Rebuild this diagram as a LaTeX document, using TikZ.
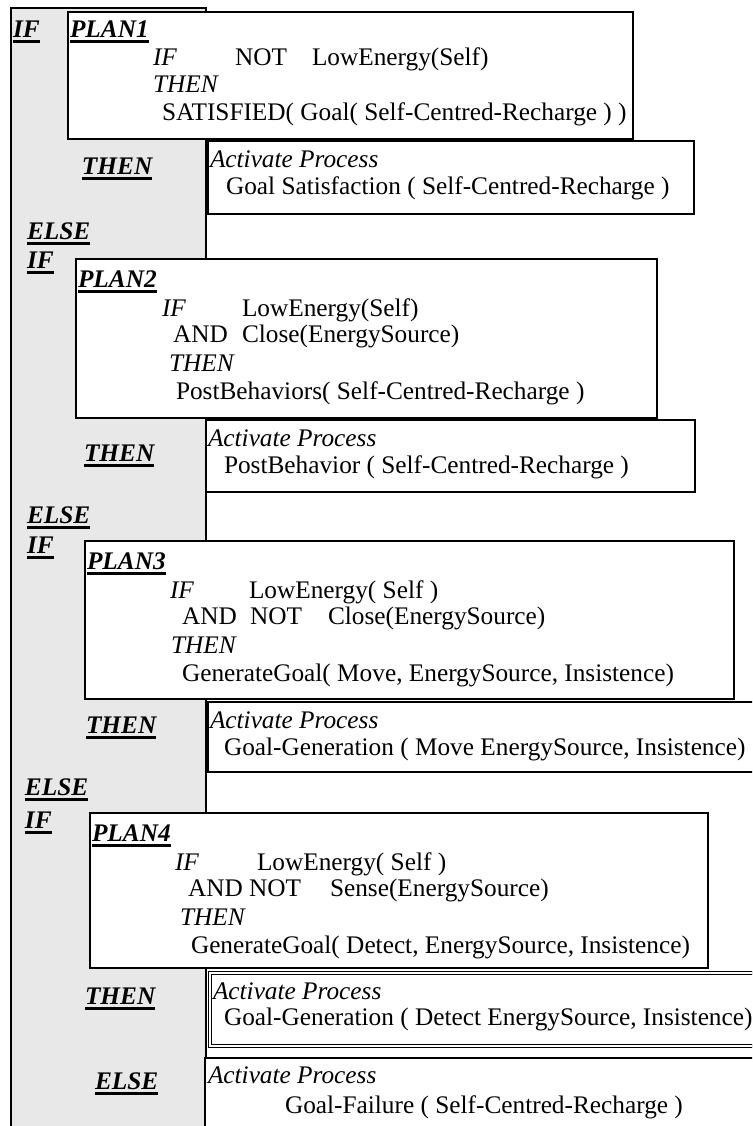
\documentclass[tikz,border=0pt]{standalone}
\usepackage{fontspec}
\setmainfont{Liberation Serif}
\definecolor{panelgrey}{RGB}{232,232,232}
\newsavebox{\kwbox}
\newcommand{\kw}[1]{\sbox\kwbox{\bfseries\itshape #1}\rlap{\vrule height -1.5pt depth 3.2pt width \wd\kwbox}\usebox\kwbox}
\tikzset{
	txt/.style={anchor=base west, inner sep=0pt, outer sep=0pt},
	planbox/.style={draw, fill=white, line width=0.9pt},
	procbox/.style={draw, fill=white, line width=0.8pt},
}

\begin{document}
\begin{tikzpicture}[x=0.5pt, y=-0.5pt, font=\fontsize{12.65pt}{15pt}\selectfont]
	\useasboundingbox (0,0) rectangle (752,1126);
	\clip (0,0) rectangle (752,1126);
	\fill[white] (0,0) rectangle (752,1126);
	\draw[fill=panelgrey, line width=0.9pt] (11,8) rectangle (206,1140);
	
	\node[txt] (if1) at (13,37) {\kw{IF}};
	\draw[planbox] (68,12) rectangle (633,139);
	\node[txt] (plan1) at (70,37) {\kw{PLAN1}};
	\node[txt] (p1if) at (153,65) {\textit{IF}};
	\node[txt] (p1not) at (235,65) {NOT};
	\node[txt] (p1low) at (312,65) {LowEnergy(Self)};
	\node[txt] (p1then) at (153,92) {\textit{THEN}};
	\node[txt] (p1do) at (162,120) {SATISFIED( Goal( Self-Centred-Recharge ) )};
	
	\draw[procbox] (208,141) rectangle (694,214);
	\node[txt] (then1) at (82,174) {\kw{THEN}};
	\node[txt] (act1) at (210,167) {\textit{Activate Process}};
	\node[txt] (proc1) at (226,194) {Goal Satisfaction ( Self-Centred-Recharge )};
	
	\node[txt] (else1) at (27,239) {\kw{ELSE}};
	\node[txt] (if2) at (27,268) {\kw{IF}};
	\draw[planbox] (76,259) rectangle (657,418);
	\node[txt] (plan2) at (78,287) {\kw{PLAN2}};
	\node[txt] (p2if) at (162,316) {\textit{IF}};
	\node[txt] (p2low) at (242,316) {LowEnergy(Self)};
	\node[txt] (p2and) at (173,342) {AND};
	\node[txt] (p2close) at (242,342) {Close(EnergySource)};
	\node[txt] (p2then) at (169,371) {\textit{THEN}};
	\node[txt] (p2do) at (176,399) {PostBehaviors( Self-Centred-Recharge )};
	
	\draw[procbox] (206,420) rectangle (695,492);
	\node[txt] (then2) at (84,461) {\kw{THEN}};
	\node[txt] (act2) at (208,446) {\textit{Activate Process}};
	\node[txt] (proc2) at (224,473) {PostBehavior ( Self-Centred-Recharge )};
	
	\node[txt] (else2) at (27,523) {\kw{ELSE}};
	\node[txt] (if3) at (27,553) {\kw{IF}};
	\draw[planbox] (85,541) rectangle (734,699);
	\node[txt] (plan3) at (87,569) {\kw{PLAN3}};
	\node[txt] (p3if) at (170,598) {\textit{IF}};
	\node[txt] (p3low) at (249,598) {LowEnergy( Self )};
	\node[txt] (p3and) at (182,624) {AND};
	\node[txt] (p3not) at (250,624) {NOT};
	\node[txt] (p3close) at (328,624) {Close(EnergySource)};
	\node[txt] (p3then) at (171,653) {\textit{THEN}};
	\node[txt] (p3do) at (182,681) {GenerateGoal( Move, EnergySource, Insistence)};
	
	\draw[procbox] (208,702) rectangle (770,772);
	\node[txt] (then3) at (86,733) {\kw{THEN}};
	\node[txt] (act3) at (210,728) {\textit{Activate Process}};
	\node[txt] (proc3) at (224,755) {Goal-Generation ( Move EnergySource, Insistence)};
	
	\node[txt] (else3) at (25,795) {\kw{ELSE}};
	\node[txt] (if4) at (25,828) {\kw{IF}};
	\draw[planbox] (90,813) rectangle (708,968);
	\node[txt] (plan4) at (92,841) {\kw{PLAN4}};
	\node[txt] (p4if) at (175,870) {\textit{IF}};
	\node[txt] (p4low) at (257,870) {LowEnergy( Self )};
	\node[txt] (p4and) at (188,896) {AND NOT};
	\node[txt] (p4sense) at (330,896) {Sense(EnergySource)};
	\node[txt] (p4then) at (180,925) {\textit{THEN}};
	\node[txt] (p4do) at (191,953) {GenerateGoal( Detect, EnergySource, Insistence)};
	
	\draw[procbox, line width=0.5pt, double, double distance=0.8pt] (210,973) rectangle (770,1046);
	\node[txt] (then4) at (85,1004) {\kw{THEN}};
	\node[txt] (act4) at (213,999) {\textit{Activate Process}};
	\node[txt] (proc4) at (224,1025) {Goal-Generation ( Detect EnergySource, Insistence)};
	
	\draw[procbox] (205,1058) rectangle (770,1140);
	\node[txt] (else4) at (95,1089) {\kw{ELSE}};
	\node[txt] (act5) at (208,1083) {\textit{Activate Process}};
	\node[txt] (proc5) at (285,1113) {Goal-Failure ( Self-Centred-Recharge )};
\end{tikzpicture}
\end{document}
